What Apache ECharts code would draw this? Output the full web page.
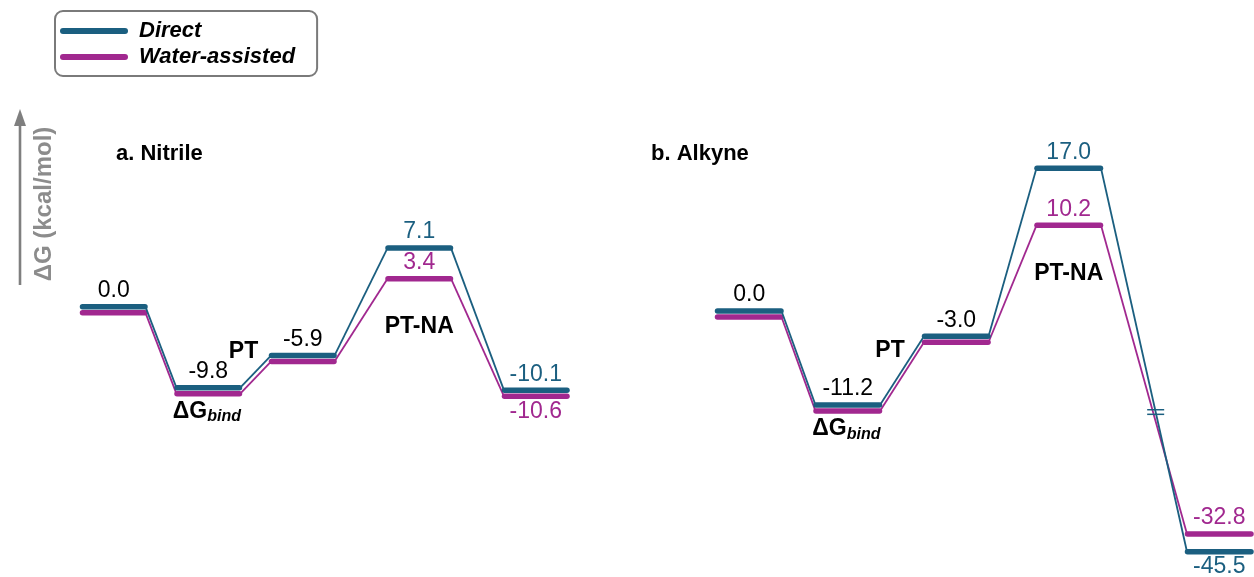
<!DOCTYPE html>
<html>
<head>
<meta charset="utf-8">
<script src="https://cdn.jsdelivr.net/npm/echarts@6/dist/echarts.min.js"></script>
<style>
html,body{margin:0;padding:0;background:#ffffff;}
#chart{width:1254px;height:577px;}
</style>
</head>
<body>
<div id="chart"></div>
<script>
// ---------------- DATA ----------------
const seriesNames = ['Direct', 'Water-assisted'];
const panelTitles = ['a. Nitrile', 'b. Alkyne'];
const yAxisTitle = 'ΔG (kcal/mol)';

// Panel a: nitrile
const directA = [0.0, -9.8, -5.9, 7.1, -10.1];
const waterA  = [0.0, -9.8, -5.9, 3.4, -10.6];
const levelNotesA = ['', 'ΔG_bind', '', 'PT-NA', ''];
const stepNotesA  = ['', 'PT', '', ''];

// Panel b: alkyne
const directB = [0.0, -11.2, -3.0, 17.0, -45.5];
const waterB  = [0.0, -11.2, -3.0, 10.2, -32.8];
const levelNotesB = ['', 'ΔG_bind', '', 'PT-NA', ''];
const stepNotesB  = ['', 'PT', '', ''];

// ---------------- STYLE / LAYOUT ----------------
const FONT = "'Liberation Sans', Arial, Helvetica, sans-serif";
const C_DIRECT = '#1b5f80';
const C_WATER = '#a1288f';
const LEVEL_W = 1;               // level width in x units
const GAPS_A = [0.4, 0.4, 0.726, 0.726];     // connector spans (in level widths)
const GAPS_B = [0.438, 0.584, 0.642, 1.197];
const BREAKS_B = [
  { start: -31, end: -12.5, gap: 12.25 },
  { start: -44.5, end: -33.9, gap: 0 }
];
const SEP = 6;                   // min px separation of overlapping levels
const NOTE_OFF = { 'ΔG_bind': 18, 'PT-NA': 48 };
const STEP_OFF = [-12, -20];
const BAR_W = 5.5;

function cumStarts(gaps, n) {
  const xs = [0];
  for (let i = 1; i < n; i++) xs.push(xs[i - 1] + LEVEL_W + gaps[i - 1]);
  return xs;
}

const panels = [
  { direct: directA, water: waterA, levelNotes: levelNotesA, stepNotes: stepNotesA, gaps: GAPS_A, breakVal: null },
  { direct: directB, water: waterB, levelNotes: levelNotesB, stepNotes: stepNotesB, gaps: GAPS_B, breakVal: BREAKS_B[0].end }
];
panels.forEach(p => { p.xs = cumStarts(p.gaps, p.direct.length); p.xmax = p.xs[p.xs.length - 1] + LEVEL_W; });

function makeRender(p, which) {
  return function (params, api) {
    const i = params.dataIndex;
    const n = p.direct.length;
    const geo = k => {
      const l = api.coord([p.xs[k], p.direct[k]]);
      const r = api.coord([p.xs[k] + LEVEL_W, p.direct[k]]);
      const yd = l[1];
      let yw = api.coord([p.xs[k], p.water[k]])[1];
      if (yw >= yd - SEP && yw < yd + SEP) yw = yd + SEP;
      return { x0: l[0], x1: r[0], yd: yd, yw: yw };
    };
    const g = geo(i);
    const color = which === 0 ? C_DIRECT : C_WATER;
    const y = which === 0 ? g.yd : g.yw;
    const ch = [];
    // level bar
    ch.push({ type: 'line', shape: { x1: g.x0 + 2.5, y1: y, x2: g.x1 - 2.5, y2: y },
      style: { stroke: color, lineWidth: BAR_W, lineCap: 'round' }, z2: 5 });
    // connector
    let conn = null;
    if (i < n - 1) {
      const h = geo(i + 1);
      const y2 = which === 0 ? h.yd : h.yw;
      conn = { x1: g.x1 - 2, y1: y, x2: h.x0 + 2, y2: y2 };
      ch.push({ type: 'line', shape: conn, style: { stroke: color, lineWidth: 1.8 } });
    }
    // value label
    const same = p.direct[i] === p.water[i];
    const val = which === 0 ? p.direct[i] : p.water[i];
    if (!(same && which === 1)) {
      let above = true;
      if (!same) {
        const otherY = which === 0 ? g.yw : g.yd;
        if (Math.abs(otherY - y) < 25 && y > otherY) above = false;
      }
      ch.push({ type: 'text', x: (g.x0 + g.x1) / 2, y: above ? y - 16 : y + 15,
        style: { text: val.toFixed(1), fill: same ? '#000000' : color, font: '23px ' + FONT,
          align: 'center', verticalAlign: 'middle' }, z2: 10 });
    }
    if (which === 0) {
      // level annotation
      const note = p.levelNotes[i];
      if (note) {
        const cx = (g.x0 + g.x1) / 2;
        const ny = Math.max(g.yd, g.yw) + (NOTE_OFF[note] || 20);
        if (note.indexOf('_') >= 0) {
          const parts = note.split('_');
          ch.push({ type: 'text', x: cx - 1, y: ny,
            style: { text: parts[0], fill: '#000', font: 'bold 23px ' + FONT, align: 'right', verticalAlign: 'middle' } });
          ch.push({ type: 'text', x: cx - 1, y: ny + 5,
            style: { text: parts[1], fill: '#000', font: 'italic bold 16px ' + FONT, align: 'left', verticalAlign: 'middle' } });
        } else {
          ch.push({ type: 'text', x: cx, y: ny,
            style: { text: note, fill: '#000', font: 'bold 23px ' + FONT, align: 'center', verticalAlign: 'middle' } });
        }
      }
      // step annotation
      const step = i < n - 1 ? p.stepNotes[i] : '';
      if (step && conn) {
        ch.push({ type: 'text', x: (conn.x1 + conn.x2) / 2 + STEP_OFF[0], y: (conn.y1 + conn.y2) / 2 + STEP_OFF[1],
          style: { text: step, fill: '#000', font: 'bold 23px ' + FONT, align: 'center', verticalAlign: 'middle' } });
      }
      // axis-break mark on a connector crossing the break
      if (p.breakVal !== null && conn) {
        const lo = Math.min(p.direct[i], p.direct[i + 1]);
        const hi = Math.max(p.direct[i], p.direct[i + 1]);
        if (lo < p.breakVal && hi > p.breakVal) {
          const yb = api.coord([0, p.breakVal])[1] - 4;
          const xb = conn.x1 + (yb - conn.y1) * (conn.x2 - conn.x1) / (conn.y2 - conn.y1);
          [-2.3, 2.3].forEach(d => ch.push({ type: 'line',
            shape: { x1: xb - 8.5, y1: yb + d, x2: xb + 8.5, y2: yb + d },
            style: { stroke: C_DIRECT, lineWidth: 1.5 }, z2: 20 }));
        }
      }
    }
    return { type: 'group', children: ch };
  };
}

const series = [];
panels.forEach((p, pi) => {
  [1, 0].forEach(which => {
    series.push({
      type: 'custom',
      name: seriesNames[which],
      xAxisIndex: pi, yAxisIndex: pi,
      clip: false,
      itemStyle: { color: which === 0 ? C_DIRECT : C_WATER },
      encode: { x: 0, y: 1 },
      data: (which === 0 ? p.direct : p.water).map((v, k) => [p.xs[k], v]),
      renderItem: makeRender(p, which),
      z: which === 0 ? 3 : 2
    });
  });
});

const chart = echarts.init(document.getElementById('chart'), null, { renderer: 'canvas' });
chart.setOption({
  animation: false,
  backgroundColor: '#ffffff',
  title: [
    { text: panelTitles[0], left: 116, top: 143, padding: 0,
      textStyle: { fontSize: 22, fontWeight: 'bold', color: '#000', fontFamily: FONT } },
    { text: panelTitles[1], left: 651, top: 143, padding: 0,
      textStyle: { fontSize: 22, fontWeight: 'bold', color: '#000', fontFamily: FONT } }
  ],
  legend: {
    data: [
      { name: seriesNames[0], icon: 'path://M3,0 H65 A3,3 0 0 1 65,6 H3 A3,3 0 0 1 3,0 Z', itemStyle: { color: C_DIRECT } },
      { name: seriesNames[1], icon: 'path://M3,0 H65 A3,3 0 0 1 65,6 H3 A3,3 0 0 1 3,0 Z', itemStyle: { color: C_WATER } }
    ],
    orient: 'vertical', left: 55, top: 11,
    itemWidth: 68, itemHeight: 6, itemGap: 4,
    borderColor: '#7a7a7a', borderWidth: 2, borderRadius: 8,
    padding: [9, 22, 8, 5],
    selectedMode: false,
    textStyle: { fontSize: 22, fontWeight: 'bold', fontStyle: 'italic', color: '#000', fontFamily: FONT, padding: [0, 0, 0, 6] }
  },
  grid: [
    { left: 80, top: 141.4, width: 489.5, height: 281.2 },
    { left: 715, top: 143, width: 538.5, height: 421.3 }
  ],
  xAxis: [
    { type: 'value', gridIndex: 0, min: 0, max: panels[0].xmax, show: false },
    { type: 'value', gridIndex: 1, min: 0, max: panels[1].xmax, show: false }
  ],
  yAxis: [
    { type: 'value', gridIndex: 0, min: -14, max: 20, show: false, splitLine: { show: false } },
    { type: 'value', gridIndex: 1, min: -47, max: 20, show: false, splitLine: { show: false },
      breaks: BREAKS_B, breakArea: { show: false } }
  ],
  graphic: [
    { type: 'line', shape: { x1: 20, y1: 285, x2: 20, y2: 122 }, style: { stroke: '#7f7f7f', lineWidth: 2.6 } },
    { type: 'polygon', shape: { points: [[20, 109], [14, 126], [26, 126]] }, style: { fill: '#7f7f7f' } },
    { type: 'text', x: 44, y: 204, rotation: Math.PI / 2,
      style: { text: yAxisTitle, font: 'bold 24px ' + FONT, fill: '#8c8c8c', align: 'center', verticalAlign: 'middle' } }
  ],
  series: series
});
</script>
</body>
</html>
